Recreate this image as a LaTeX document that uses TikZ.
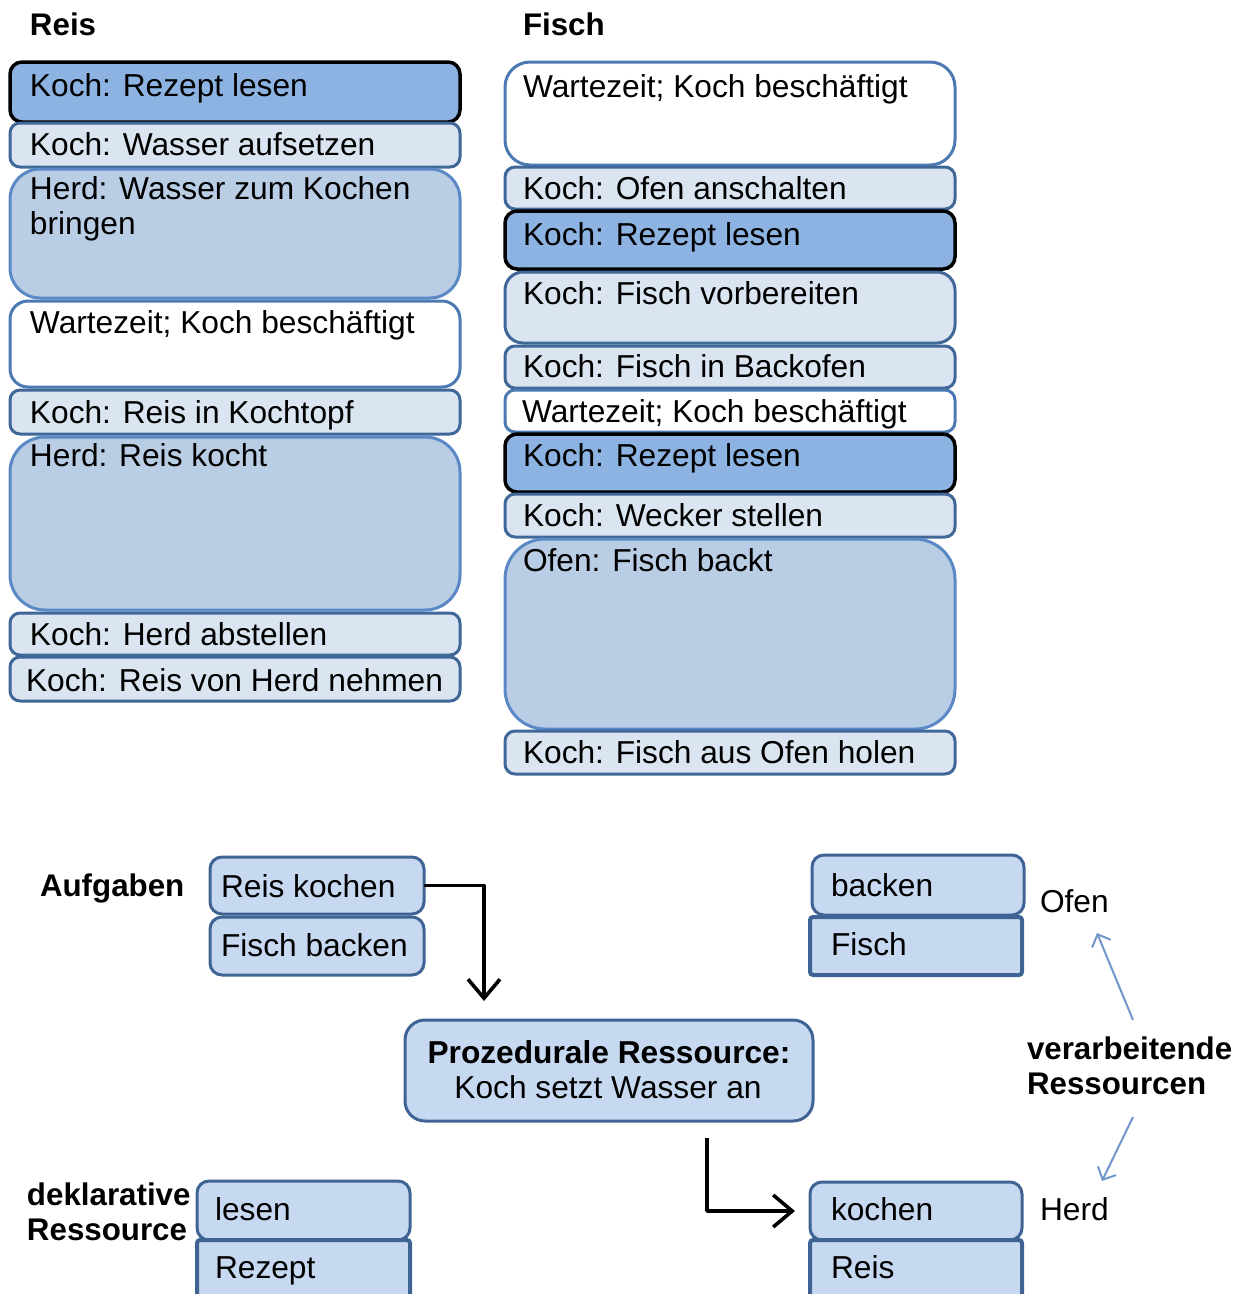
\documentclass[tikz,border=0pt]{standalone}
\usepackage{fontspec}
\setmainfont{Liberation Sans}
\usetikzlibrary{arrows.meta}

\definecolor{darkfill}{HTML}{8DB3E2}
\definecolor{lightfill}{HTML}{DBE5F1}
\definecolor{midfill}{HTML}{B9CDE5}
\definecolor{taskfill}{HTML}{C6D9F1}
\definecolor{lightedge}{HTML}{3F6797}
\definecolor{midedge}{HTML}{5A89C5}
\definecolor{whiteedge}{HTML}{4C79B1}
\definecolor{taskedge}{HTML}{3F6494}
\definecolor{thinarrow}{HTML}{6F97CB}

\tikzset{
  box/.style={rectangle, line width=3pt, inner sep=0pt, outer sep=0pt, anchor=north west},
  darkbox/.style={box, fill=darkfill, draw=black, line width=3.5pt, rounded corners=12pt},
  lightbox/.style={box, fill=lightfill, draw=lightedge, rounded corners=10pt},
  midbox/.style={box, fill=midfill, draw=midedge, rounded corners=30pt},
  whitebox/.style={box, fill=white, draw=whiteedge, rounded corners=18pt},
  taskbox/.style={box, fill=taskfill, draw=taskedge, rounded corners=12pt},
  squarebox/.style={box, fill=taskfill, draw=taskedge, line width=4pt, rounded corners=3pt},
  lbl/.style={inner sep=0pt, outer sep=0pt, anchor=base west, text=black,
    font=\fontsize{31.7}{35}\selectfont},
  hdr/.style={lbl, font=\fontsize{31.3}{35}\selectfont\bfseries},
  blk/.style={draw=black, line width=3.6pt, line join=round,
    -{Straight Barb[length=19pt, width=32pt, line width=3.6pt]}},
  thin/.style={draw=thinarrow, line width=2pt,
    -{Straight Barb[length=10pt, width=20pt, line width=2pt]}},
}

% #1 name, #2 style, #3 x, #4 y, #5 width, #6 height,
% #7 text offset x, #8 baseline offset y, #9 text
\newcommand\stepnode[9]{%
  \node[#2, minimum width=#5pt, minimum height=#6pt] (#1) at (#3,#4) {};
  \node[lbl] (#1-t) at ([shift={(#7pt,-#8pt)}]#1.north west) {#9};}

\newcommand\twolines[2]{\vtop{\baselineskip=35pt\hbox{#1}\hbox{#2}}}

\begin{document}
\begin{tikzpicture}[x=1pt, y=-1pt]
  \useasboundingbox (0,0) rectangle (1242,1294);
  \clip (0,0) rectangle (1242,1294);

  % column headers
  \node[hdr] (hreis) at (30,35) {Reis};
  \node[hdr] (hfisch) at (523,35) {Fisch};

  % rice sequence
  \stepnode{L1}{darkbox}{10}{62}{450}{60}{20}{34}{Koch: Rezept lesen}
  \stepnode{L2}{lightbox}{10}{123}{450}{44}{20}{32}{Koch: Wasser aufsetzen}
  \stepnode{L3}{midbox}{10}{169}{450}{129}{20}{30}{\twolines{Herd: Wasser zum Kochen}{bringen}}
  \stepnode{L4}{whitebox}{10}{301}{450}{86}{20}{32}{Wartezeit; Koch beschäftigt}
  \stepnode{L5}{lightbox}{10}{390}{450}{44}{20}{33}{Koch: Reis in Kochtopf}
  \stepnode{L6}{midbox, rounded corners=35pt}{10}{437}{450}{173}{20}{29}{Herd: Reis kocht}
  \stepnode{L7}{lightbox}{10}{613}{450}{42}{20}{32}{Koch: Herd abstellen}
  \stepnode{L8}{lightbox}{10}{657}{450}{44}{16}{34}{Koch: Reis von Herd nehmen}

  % fish sequence
  \stepnode{R1}{whitebox, rounded corners=25pt}{505}{62}{450}{103}{18}{35}{Wartezeit; Koch beschäftigt}
  \stepnode{R2}{lightbox}{505}{167}{450}{42}{18}{32}{Koch: Ofen anschalten}
  \stepnode{R3}{darkbox}{505}{211}{450}{58}{18}{34}{Koch: Rezept lesen}
  \stepnode{R4}{lightbox, rounded corners=18pt}{505}{272}{450}{71}{18}{32}{Koch: Fisch vorbereiten}
  \stepnode{R5}{lightbox}{505}{346}{450}{42}{18}{31}{Koch: Fisch in Backofen}
  \stepnode{R6}{whitebox, rounded corners=10pt}{505}{390}{450}{42}{17}{32}{Wartezeit; Koch beschäftigt}
  \stepnode{R7}{darkbox}{505}{434}{450}{58}{18}{32}{Koch: Rezept lesen}
  \stepnode{R8}{lightbox}{505}{494}{450}{43}{18}{32}{Koch: Wecker stellen}
  \stepnode{R9}{midbox, rounded corners=40pt}{505}{539}{450}{190}{18}{32}{Ofen: Fisch backt}
  \stepnode{R10}{lightbox}{505}{731}{450}{43}{18}{32}{Koch: Fisch aus Ofen holen}

  % tasks
  \node[hdr] (aufgaben) at (40,896) {Aufgaben};
  \stepnode{rk}{taskbox}{210}{857}{214}{57}{11}{40}{Reis kochen}
  \stepnode{fb}{taskbox}{210}{917}{214}{58}{11}{39}{Fisch backen}

  % procedural resource
  \node[box, taskbox, rounded corners=20pt, minimum width=408pt, minimum height=101pt]
    (proz) at (405,1020) {};
  \node[lbl, anchor=base] (proz-a) at (609,1063) {\bfseries Prozedurale Ressource:};
  \node[lbl, anchor=base] (proz-b) at (608,1098) {Koch setzt Wasser an};

  % processing resources
  \stepnode{backen}{taskbox}{812}{855}{212}{60}{19}{41}{backen}
  \stepnode{fisch}{squarebox}{810}{917}{212}{58}{21}{38}{Fisch}
  \node[lbl] (ofen) at (1040,912) {Ofen};
  \stepnode{kochen}{taskbox}{810}{1182}{212}{58}{21}{38}{kochen}
  \stepnode{reis}{squarebox}{810}{1240}{212}{70}{21}{38}{Reis}
  \node[lbl] (herd) at (1040,1220) {Herd};
  \node[hdr] (verarb) at (1027,1059) {\twolines{verarbeitende}{Ressourcen}};

  % declarative resource
  \node[hdr] (dekl) at (27,1205) {\twolines{deklarative}{Ressource}};
  \stepnode{lesen}{taskbox}{197}{1181}{213}{59}{18}{39}{lesen}
  \stepnode{rezept}{squarebox}{197}{1240}{213}{70}{18}{38}{Rezept}

  % connectors
  \coordinate (a1end) at (484,1001);
  \draw[blk] (rk.east) -| (a1end);
  \coordinate (a2start) at (707,1138);
  \draw[blk, shorten >=15pt] (a2start) |- (kochen.west);

  \coordinate (b1s) at (1133,1020);
  \coordinate (b1e) at (1097,933);
  \draw[thin] (b1s) -- (b1e);
  \coordinate (b2s) at (1133,1117);
  \coordinate (b2e) at (1102,1181);
  \draw[thin] (b2s) -- (b2e);
\end{tikzpicture}
\end{document}
